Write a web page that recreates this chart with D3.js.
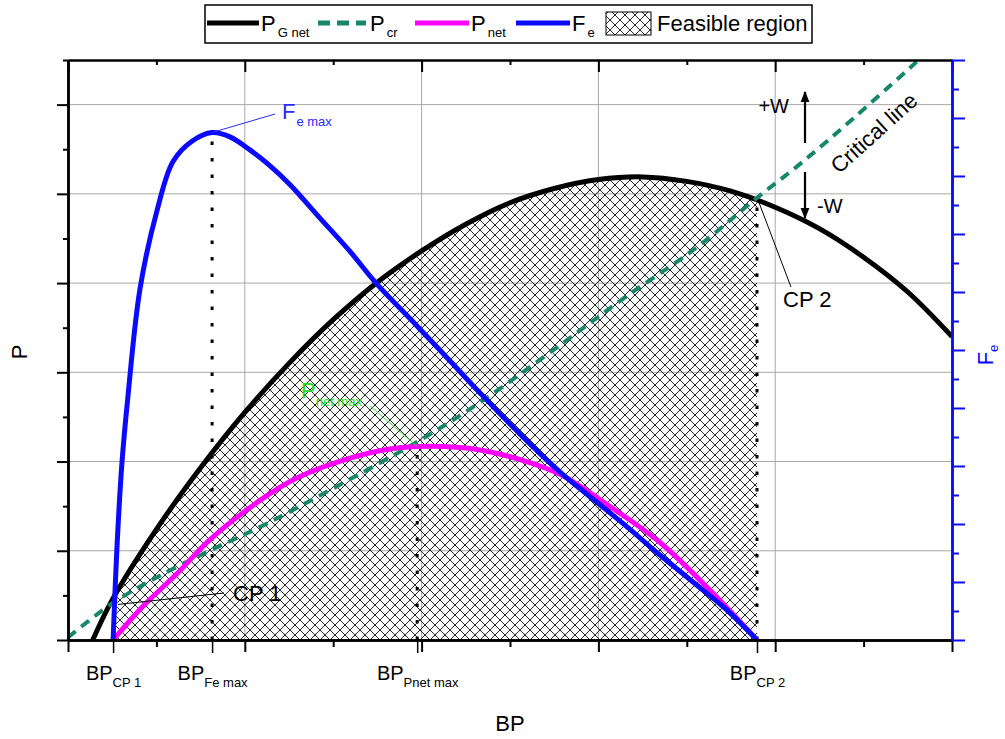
<!DOCTYPE html>
<html><head><meta charset="utf-8">
<script src="https://cdn.jsdelivr.net/npm/d3@7"></script>
<style>
body{margin:0;background:#fff}
text{font-family:"Liberation Sans",Arial,sans-serif}
</style>
</head><body>
<svg id="c" width="1005" height="739"></svg>
<script>
// ---------- data ----------
const gnetX = [0.14, 0.25, 0.5, 0.75, 1, 1.25, 1.5, 1.75, 2, 2.25, 2.5, 2.75, 3, 3.25, 3.5, 3.75, 4, 4.25, 4.5, 4.75, 5];
const gnetP = [0, 0.45, 1.24, 1.93, 2.55, 3.10, 3.59, 4.01, 4.36, 4.66, 4.90, 5.06, 5.16, 5.19, 5.14, 5.03, 4.85, 4.61, 4.29, 3.90, 3.40];

const crX = [0, 0.25, 0.5, 0.8, 1.1, 1.5, 2.0, 2.35, 2.8, 3.15, 3.55, 3.9, 4.15, 4.45, 4.8];
const crP = [0.03, 0.41, 0.70, 1.0, 1.28, 1.70, 2.25, 2.69, 3.33, 3.84, 4.39, 4.96, 5.35, 5.86, 6.48];

const netX = [0.255, 0.42, 0.62, 0.8, 1.09, 1.3, 1.6, 1.82, 2.05, 2.33, 2.56, 2.78, 3.07, 3.35, 3.63, 3.897];
const netP = [0, 0.37, 0.75, 1.12, 1.57, 1.82, 2.04, 2.14, 2.17, 2.13, 2.02, 1.86, 1.49, 1.09, 0.56, 0];

const feX = [0.255, 0.277, 0.305, 0.339, 0.407, 0.503, 0.594, 0.701, 0.815, 0.916, 1.029, 1.143, 1.256, 1.425, 1.595, 1.736, 1.974, 2.161, 2.347, 2.557, 2.783, 2.969, 3.162, 3.348, 3.535, 3.727, 3.897];
const feF = [0, 3.2, 6.1, 8.4, 12.1, 14.8, 16.5, 17.2, 17.5, 17.35, 16.9, 16.35, 15.7, 14.55, 13.4, 12.35, 10.83, 9.62, 8.41, 7.1, 5.79, 4.86, 3.9, 2.93, 2.0, 1.03, 0];

const bpTickX = [0.255, 0.815, 1.975, 3.897];
const bpTickSub = ["CP 1", "Fe max", "Pnet max", "CP 2"];

const legendNames = [["P","G net"],["P","cr"],["P","net"],["F","e"]];

// ---------- setup ----------
const svg = d3.select("#c");
const x = d3.scaleLinear().domain([0,5]).range([68,952]);
const y = d3.scaleLinear().domain([0,6.5]).range([640,60]);
const yF = d3.scaleLinear().domain([0,20]).range([640,60]);

const cGnet="#000000", cCr="#17876a", cNet="#ff00ff", cFe="#0a0aff";
const curve = d3.curveCatmullRom.alpha(0.5);

const defs = svg.append("defs");
const pat = defs.append("pattern").attr("id","hatch").attr("patternUnits","userSpaceOnUse")
  .attr("width",10).attr("height",10);
pat.append("path").attr("d","M0,0L10,10M0,10L10,0M-1,9L1,11M9,-1L11,1M-1,1L1,-1M9,11L11,9")
  .attr("stroke","#111").attr("stroke-width",0.9).attr("fill","none");
defs.append("clipPath").attr("id","feasClip").append("rect")
  .attr("x",x(bpTickX[0])).attr("y",0).attr("width",x(bpTickX[3])-x(bpTickX[0])).attr("height",739);
const mk = defs.append("marker").attr("id","ah").attr("viewBox","0 0 10 10").attr("refX",9).attr("refY",5)
  .attr("markerWidth",5).attr("markerHeight",5.5).attr("orient","auto-start-reverse").attr("markerUnits","strokeWidth");
mk.append("path").attr("d","M0,1L10,5L0,9Z").attr("fill","#000");

// ---------- grid ----------
const grid = svg.append("g").attr("stroke","#a8a8a8").attr("stroke-width",1);
grid.selectAll(".gx").data([1,2,3,4]).join("line")
  .attr("x1",d=>x(d)).attr("x2",d=>x(d)).attr("y1",y(6.5)).attr("y2",y(0));
grid.selectAll(".gy").data([1,2,3,4,5,6]).join("line")
  .attr("y1",d=>y(d)).attr("y2",d=>y(d)).attr("x1",x(0)).attr("x2",x(5));

// ---------- feasible region ----------
const gnetData = gnetX.map((d,i)=>({x:d,p:gnetP[i]}));
svg.append("path").datum(gnetData)
  .attr("clip-path","url(#feasClip)")
  .attr("d", d3.area().x(d=>x(d.x)).y0(y(0)).y1(d=>y(d.p)).curve(curve))
  .attr("fill","url(#hatch)");

// ---------- dotted verticals ----------
function interp(xs, ys, v){
  for(let i=0;i<xs.length-1;i++){ if(v>=xs[i] && v<=xs[i+1]){ const t=(v-xs[i])/(xs[i+1]-xs[i]); return ys[i]+t*(ys[i+1]-ys[i]); } }
  return ys[ys.length-1];
}
const iFe = feF.indexOf(d3.max(feF));
const iNet = netP.indexOf(d3.max(netP));
const feMaxPt = [x(feX[iFe]), yF(feF[iFe])];
const netMaxPt = [x(bpTickX[2]), y(netP[iNet])];
const cp2Pt = [x(bpTickX[3]), y(interp(gnetX,gnetP,bpTickX[3]))];
const cp1Pt = [x(bpTickX[0]), y(interp(gnetX,gnetP,bpTickX[0]))];
const dots = svg.append("g").attr("stroke","#000").attr("stroke-width",3).attr("stroke-dasharray","3.5,13");
[[feMaxPt[0],feMaxPt[1]],[netMaxPt[0],netMaxPt[1]],[cp2Pt[0],cp2Pt[1]]].forEach(p=>{
  dots.append("line").attr("x1",p[0]).attr("x2",p[0]).attr("y1",y(0)).attr("y2",p[1]);
});

// ---------- curves ----------
const lineP = d3.line().x(d=>x(d[0])).y(d=>y(d[1])).curve(curve);
const lineF = d3.line().x(d=>x(d[0])).y(d=>yF(d[1])).curve(curve);
svg.append("path").attr("d", lineP(gnetX.map((d,i)=>[d,gnetP[i]])))
  .attr("fill","none").attr("stroke",cGnet).attr("stroke-width",5);
svg.append("path").attr("d", lineP(crX.map((d,i)=>[d,crP[i]])))
  .attr("fill","none").attr("stroke",cCr).attr("stroke-width",4).attr("stroke-dasharray","10,7");
svg.append("path").attr("d", lineP(netX.map((d,i)=>[d,netP[i]])))
  .attr("fill","none").attr("stroke",cNet).attr("stroke-width",5);
svg.append("path").attr("d", lineF(feX.map((d,i)=>[d,feF[i]])))
  .attr("fill","none").attr("stroke",cFe).attr("stroke-width",5);

// ---------- axes ----------
function styleAxis(g, color, w){
  g.select(".domain").attr("stroke",color).attr("stroke-width",w);
  g.selectAll(".tick line").attr("stroke",color).attr("stroke-width",2);
  g.selectAll(".tick text").remove();
}
const majX = d3.range(0,5.01,1), minX = d3.range(0.5,5,1);
const majY = d3.range(0,6.01,1), minY = d3.range(0.5,6.6,1);
let g = svg.append("g").attr("transform","translate(0,640)")
  .call(d3.axisBottom(x).tickValues(majX).tickSize(12).tickSizeOuter(0)); styleAxis(g,"#000",2.5);
g = svg.append("g").attr("transform","translate(0,640)")
  .call(d3.axisBottom(x).tickValues(minX).tickSize(7).tickSizeOuter(0)); styleAxis(g,"#000",2.5);
g = svg.append("g").attr("transform","translate(0,60)")
  .call(d3.axisTop(x).tickValues(majX).tickSize(-12).tickSizeOuter(0)); styleAxis(g,"#000",2);
g = svg.append("g").attr("transform","translate(0,60)")
  .call(d3.axisTop(x).tickValues(minX).tickSize(-5).tickSizeOuter(0)); styleAxis(g,"#000",2);
g = svg.append("g").attr("transform","translate(68,0)")
  .call(d3.axisLeft(y).tickValues(majY).tickSize(11).tickSizeOuter(0)); styleAxis(g,"#000",2.5);
g = svg.append("g").attr("transform","translate(68,0)")
  .call(d3.axisLeft(y).tickValues(minY).tickSize(5).tickSizeOuter(0)); styleAxis(g,"#000",2.5);
g = svg.append("g").attr("transform","translate(952,0)")
  .call(d3.axisRight(yF).tickValues(d3.range(0,20.1,2)).tickSize(13).tickSizeOuter(0)); styleAxis(g,cFe,2.5);
g = svg.append("g").attr("transform","translate(952,0)")
  .call(d3.axisRight(yF).tickValues(d3.range(1,20,2)).tickSize(7).tickSizeOuter(0)); styleAxis(g,cFe,2.5);
g = svg.append("g").attr("transform","translate(0,640)")
  .call(d3.axisBottom(x).tickValues(bpTickX).tickSize(13).tickSizeOuter(0));
g.select(".domain").remove();
g.selectAll(".tick line").attr("stroke","#000").attr("stroke-width",1.5);
g.selectAll(".tick text").each(function(d,i){
  const t = d3.select(this).text(null).attr("y",40).attr("dy",0).attr("fill","#000")
    .attr("font-size",20).attr("text-anchor","middle").attr("font-family",null);
  t.append("tspan").text("BP");
  t.append("tspan").attr("font-size",13).attr("dy",7).text(bpTickSub[i]);
});

// axis titles
svg.append("text").attr("x",510).attr("y",731).attr("text-anchor","middle").attr("font-size",22).text("BP");
svg.append("text").attr("transform","translate(27,352) rotate(-90)").attr("text-anchor","middle").attr("font-size",22).text("P");
const fT = svg.append("text").attr("transform","translate(993,355) rotate(-90)").attr("text-anchor","middle")
  .attr("font-size",22).attr("fill",cFe);
fT.append("tspan").text("F"); fT.append("tspan").attr("font-size",13).attr("dy",5).text("e");

// ---------- annotations ----------
svg.append("line").attr("x1",feMaxPt[0]).attr("y1",feMaxPt[1]).attr("x2",275).attr("y2",114).attr("stroke","#2a2aff").attr("stroke-width",1);
let a = svg.append("text").attr("x",282).attr("y",119).attr("font-size",22).attr("fill","#2a2aff");
a.append("tspan").text("F"); a.append("tspan").attr("font-size",13).attr("dy",7).attr("dx",1).text("e max");
svg.append("line").attr("x1",370).attr("y1",406).attr("x2",netMaxPt[0]).attr("y2",netMaxPt[1]).attr("stroke","#33dd33").attr("stroke-width",1);
a = svg.append("text").attr("x",301).attr("y",398).attr("font-size",22).attr("fill","#22dd22");
a.append("tspan").text("P"); a.append("tspan").attr("font-size",13).attr("dy",8).text("net max");
svg.append("line").attr("x1",cp1Pt[0]+5).attr("y1",cp1Pt[1]+6).attr("x2",224).attr("y2",593).attr("stroke","#000").attr("stroke-width",1);
svg.append("text").attr("x",233).attr("y",601).attr("font-size",22).text("CP 1");
svg.append("line").attr("x1",cp2Pt[0]+2).attr("y1",cp2Pt[1]+2).attr("x2",791).attr("y2",287).attr("stroke","#000").attr("stroke-width",1);
svg.append("text").attr("x",783).attr("y",307).attr("font-size",22).text("CP 2");
svg.append("line").attr("x1",805).attr("y1",143).attr("x2",805).attr("y2",92).attr("stroke","#000").attr("stroke-width",2.2).attr("marker-end","url(#ah)");
svg.append("line").attr("x1",805).attr("y1",172).attr("x2",805).attr("y2",218).attr("stroke","#000").attr("stroke-width",2.2).attr("marker-end","url(#ah)");
svg.append("text").attr("x",789).attr("y",113).attr("text-anchor","end").attr("font-size",20).text("+W");
svg.append("text").attr("x",817).attr("y",213).attr("font-size",20).text("-W");
svg.append("text").attr("transform","translate(874,133) rotate(-42)").attr("text-anchor","middle")
  .attr("dominant-baseline","central").attr("font-size",22).text("Critical line");

// ---------- legend ----------
const lg = svg.append("g");
lg.append("rect").attr("x",205).attr("y",5).attr("width",607).attr("height",38).attr("fill","#fff").attr("stroke","#000").attr("stroke-width",1.5);
const legItems = [
  {c:cGnet, dash:null, x1:207, x2:259, tx:261},
  {c:cCr, dash:"12,7", x1:318, x2:366, tx:370},
  {c:cNet, dash:null, x1:415, x2:469, tx:471},
  {c:cFe, dash:null, x1:516, x2:570, tx:572}
];
legItems.forEach((it,i)=>{
  lg.append("line").attr("x1",it.x1).attr("x2",it.x2).attr("y1",23).attr("y2",23)
    .attr("stroke",it.c).attr("stroke-width",5).attr("stroke-dasharray",it.dash);
  const t = lg.append("text").attr("x",it.tx).attr("y",31).attr("font-size",22);
  t.append("tspan").text(legendNames[i][0]);
  t.append("tspan").attr("font-size",13).attr("dy",6).attr("dx",2).text(legendNames[i][1]);
});
lg.append("rect").attr("x",606).attr("y",12).attr("width",45).attr("height",23).attr("fill","url(#hatch)").attr("stroke","#000").attr("stroke-width",1);
lg.append("text").attr("x",657).attr("y",31).attr("font-size",22).text("Feasible region");
</script>
</body></html>
